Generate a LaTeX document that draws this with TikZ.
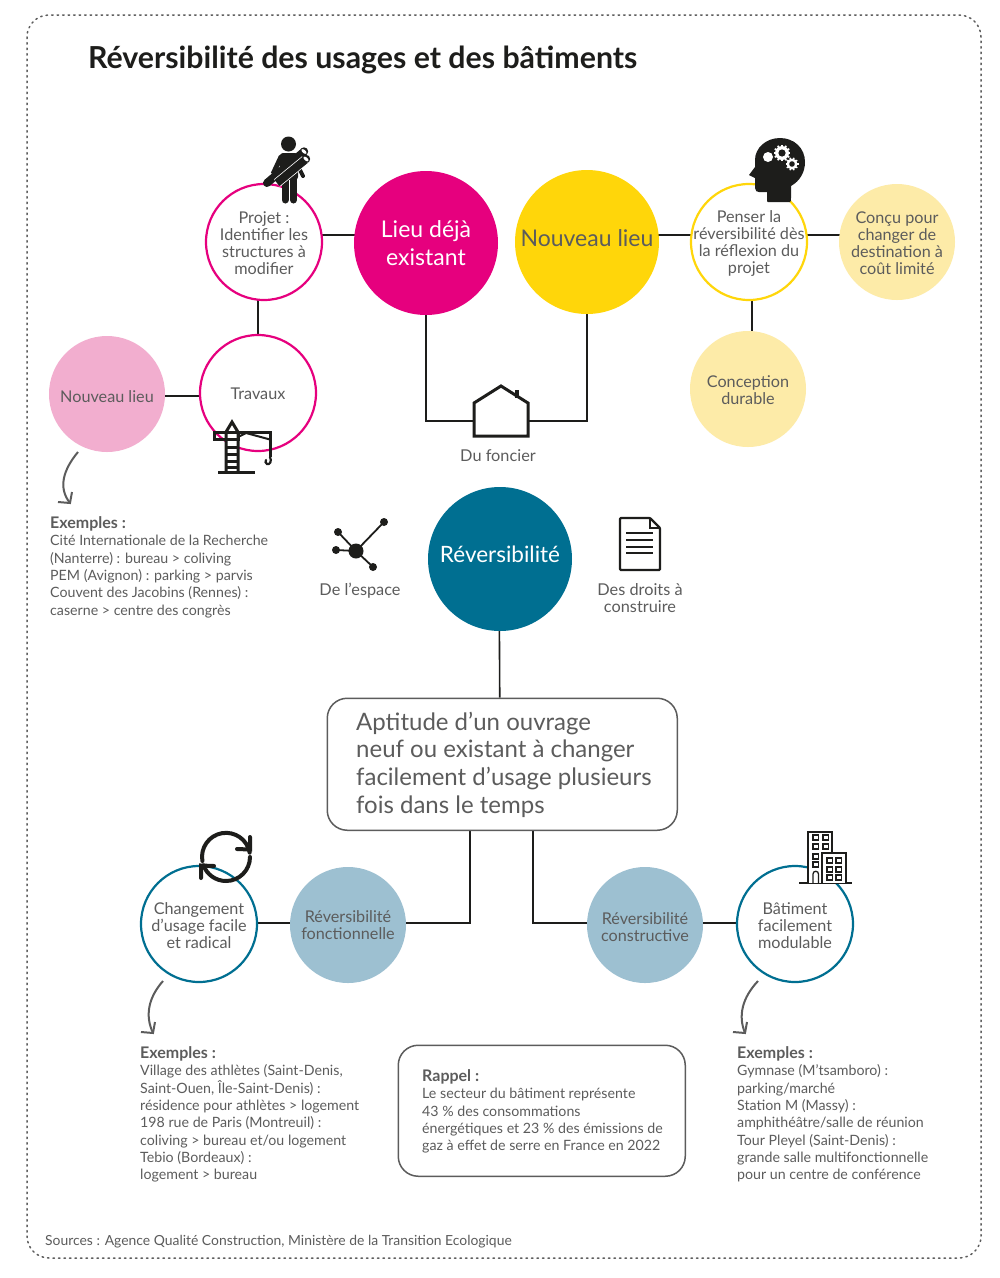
\documentclass[tikz,border=0pt]{standalone}
\usepackage{fontspec}
\setmainfont{Lato}
\usetikzlibrary{calc,arrows.meta}
\pgfdeclarelayer{bg}
\pgfsetlayers{bg,main}
\definecolor{txt}{HTML}{5C5C5C}
\definecolor{ink}{HTML}{1D1D1B}
\definecolor{pinkS}{HTML}{E6007E}
\definecolor{pinkL}{HTML}{F2AECF}
\definecolor{yelS}{HTML}{FFD60A}
\definecolor{yelL}{HTML}{FDEBA8}
\definecolor{tealS}{HTML}{006F91}
\definecolor{tealL}{HTML}{9DC0D1}
\newcommand{\fs}[2]{\fontsize{#1}{#2}\selectfont}
\tikzset{
  x=1pt,y=-1pt,
  small/.style={circle,inner sep=0pt,outer sep=0pt,minimum size=116pt},
  big/.style={circle,inner sep=0pt,outer sep=0pt,minimum size=144pt},
  ctext/.style={align=center,text=txt,inner sep=0pt,font=\fs{16.2}{17}},
  btext/.style={align=center,inner sep=0pt,font=\fs{23}{28}},
  ringP/.style={small,draw=pinkS,fill=white,line width=2.2pt},
  ringY/.style={small,draw=yelS,fill=white,line width=2.2pt},
  ringT/.style={small,draw=tealS,fill=white,line width=2.2pt},
  conn/.style={draw=ink,line width=1.6pt},
  lbl/.style={align=center,text=txt,inner sep=0pt,font=\fs{16.3}{17}},
  body/.style={anchor=north west,align=left,text=txt,inner sep=0pt,font=\fs{14.2}{17.3}},
  panel/.style={draw=txt,line width=1.5pt,rounded corners=20pt,fill=white},
  curved/.style={draw=txt,line width=2pt},
  icon/.style={draw=ink,line width=3pt,line join=miter},
}
\begin{document}
\begin{tikzpicture}
\useasboundingbox (0,0) rectangle (1000,1278);
\begin{pgfonlayer}{bg}
\fill[white] (0,0) rectangle (1000,1278);
\end{pgfonlayer}
\draw[draw=txt,line width=1.5pt,dash pattern=on 1.5pt off 4pt,line cap=round,rounded corners=22pt] (27,15) rectangle (981,1258);

\node[anchor=base west,inner sep=0pt,font=\fs{30.3}{32}\bfseries,text=ink] (title) at (88,68.5) {Réversibilité des usages et des bâtiments};

% circles
\node[ringP,label={[ctext,yshift=-1.5pt]center:{Projet :\\Identifier les\\structures à\\modifier}}] (projet) at (264,242) {};
\node[ringP,label={[ctext,yshift=-1pt]center:{Travaux}}] (travaux) at (258,393) {};
\node[small,fill=pinkL,label={[ctext,yshift=-3pt]center:{Nouveau lieu}}] (nlrose) at (107,394) {};
\node[big,fill=pinkS,label={[btext,text=white,yshift=0pt]center:{Lieu déjà\\existant}}] (lieu) at (426,243) {};
\node[big,fill=yelS,label={[btext,text=txt,yshift=4pt]center:{Nouveau lieu}}] (nouveau) at (587,242) {};
\node[ringY,label={[ctext,yshift=-1.5pt]center:{Penser la\\réversibilité dès\\la réflexion du\\projet}}] (penser) at (749,242) {};
\node[small,fill=yelL,label={[ctext,yshift=-1.5pt]center:{Conçu pour\\changer de\\destination à\\coût limité}}] (concu) at (897,242) {};
\node[small,fill=yelL,label={[ctext,yshift=-1.5pt]center:{Conception\\durable}}] (durable) at (748,389) {};
\node[big,fill=tealS,label={[btext,font=\fs{22.5}{28},text=white,yshift=5pt]center:{Réversibilité}}] (rever) at (500,559) {};
\node[small,fill=tealL,label={[ctext,yshift=-0.5pt]center:{Réversibilité\\fonctionnelle}}] (fonc) at (348,925) {};
\node[small,fill=tealL,label={[ctext,yshift=-2pt]center:{Réversibilité\\constructive}}] (cons) at (645,925) {};
\node[ringT,label={[ctext,yshift=-2pt]center:{Changement\\d’usage facile\\et radical}}] (chang) at (199,924) {};
\node[ringT,label={[ctext,yshift=-2pt]center:{Bâtiment\\facilement\\modulable}}] (batim) at (795,924) {};

% central panel
\node[panel,anchor=north west,minimum width=350pt,minimum height=132pt,inner sep=0pt] (apt) at (326.5,697.5) {};
\node[anchor=west,align=left,text=txt,inner sep=0pt,font=\fs{24}{27.7}] (apttext) at (356,764.5) {Aptitude d’un ouvrage\\neuf ou existant à changer\\facilement d’usage plusieurs\\fois dans le temps};
\node[panel,anchor=north west,minimum width=287pt,minimum height=131pt,inner sep=0pt] (rappel) at (397.5,1044.5) {};
\node[body] (rappeltext) at (422,1069.5) {{\fs{16}{17.3}\bfseries Rappel :}\\Le secteur du bâtiment représente\\43 \% des consommations\\énergétiques et 23 \% des émissions de\\gaz à effet de serre en France en 2022};

% labels
\node[lbl] (foncier) at (498,456) {Du foncier};
\node[lbl] (espace) at (360,591) {De l'espace};
\node[lbl] (droits) at (640,598) {Des droits à\\construire};
\node[body] (ex1) at (50,516.5) {{\fs{16}{17.3}\bfseries Exemples :}\\Cité Internationale de la Recherche\\(Nanterre) : bureau > coliving\\PEM (Avignon) : parking > parvis\\Couvent des Jacobins (Rennes) :\\caserne > centre des congrès};
\node[body] (ex2) at (140,1046.5) {{\fs{16}{17.3}\bfseries Exemples :}\\Village des athlètes (Saint-Denis,\\Saint-Ouen, Île-Saint-Denis) :\\résidence pour athlètes > logement\\198 rue de Paris (Montreuil) :\\coliving > bureau et/ou logement\\Tebio (Bordeaux) :\\logement > bureau};
\node[body] (ex3) at (737,1046.5) {{\fs{16}{17.3}\bfseries Exemples :}\\Gymnase (M’tsamboro) :\\parking/marché\\Station M (Massy) :\\amphithéâtre/salle de réunion\\Tour Pleyel (Saint-Denis) :\\grande salle multifonctionnelle\\pour un centre de conférence};
\node[anchor=base west,inner sep=0pt,text=txt,font=\fs{13.9}{15}] (sources) at (45,1245) {Sources : Agence Qualité Construction, Ministère de la Transition Ecologique};

% named points
\coordinate (hsL) at (474,421);
\coordinate (hsR) at (528,421);
\coordinate (a1s) at (78,452); \coordinate (a1e) at (70,503);
\coordinate (a2s) at (163,981); \coordinate (a2e) at (153,1033);
\coordinate (a3s) at (758,981); \coordinate (a3e) at (745,1033);

% connectors
\begin{pgfonlayer}{bg}
\path[conn] ([yshift=7pt]projet.center) -- ([yshift=8pt]lieu.center);
\path[conn] ([xshift=-6pt]projet.center) -- (travaux.center);
\path[conn] ([yshift=-2pt]nlrose.center) -- ([yshift=-3pt]travaux.center);
\path[conn] (lieu.south) |- (hsL);
\path[conn] (nouveau.south) |- (hsR);
\path[conn] ([yshift=7pt]nouveau.center) -- ([yshift=7pt]penser.center);
\path[conn] ([yshift=7pt]penser.center) -- ([yshift=7pt]concu.center);
\path[conn] ([xshift=3pt]penser.center) -- ([xshift=4pt]durable.center);
\path[conn] ([xshift=-1pt]rever.center) -- ([xshift=-2.5pt]apt.north);
\path[conn] ([xshift=-32pt]apt.south) |- ([yshift=2pt]fonc.center);
\path[conn] ([xshift=31pt]apt.south) |- ([yshift=2pt]cons.center);
\path[conn] ([yshift=1pt]chang.center) -- ([yshift=2pt]fonc.center);
\path[conn] ([yshift=2pt]cons.center) -- ([yshift=1pt]batim.center);
\end{pgfonlayer}

% curved arrows
\path[curved] (a1s) .. controls (63,470) and (58,488) .. (a1e);
\path[curved] (58,502) -- (a1e) -- (72,492);
\path[curved] (a2s) .. controls (148,998) and (145,1016) .. (a2e);
\path[curved] (141,1032) -- (a2e) -- (155,1022);
\path[curved] (a3s) .. controls (742,998) and (738,1016) .. (a3e);
\path[curved] (733,1032) -- (a3e) -- (747,1022);

% house
\draw[draw=ink,line width=3pt,fill=white,line join=miter] (474,403) -- (501,386) -- (528,403) -- (528,436) -- (474,436) -- cycle;
\fill[ink] (515,390) rectangle (519,398);

% worker
\fill[ink] (288.5,144) circle (7.5);
\fill[ink,rounded corners=3pt] (280,153) rectangle (298,180);
\draw[ink,line width=7pt,line cap=round] (285,176) -- (285,200);
\draw[ink,line width=7pt,line cap=round] (293.5,176) -- (293.5,200);
\draw[white,line width=1pt] (289,180) -- (289,204);
\draw[ink,line width=5pt,line cap=round] (281,157) -- (274,172) -- (282,178);
\draw[ink,line width=4pt,line cap=round] (298,166) -- (303,176);
\draw[ink,line width=8pt,line cap=round] (267,183) -- (303,152.5);
\draw[white,line width=9.5pt] (277,183) -- (305,160);
\draw[ink,line width=8pt] (277,183) -- (305,160);
\fill[ink] (304,151.5) circle (4.2) (306,159) circle (4.2);
\fill[white,rotate around={50:(304,151.5)}] (304,151.5) ellipse (1.6 and 3.2);
\fill[white,rotate around={50:(306,159)}] (306,159) ellipse (1.6 and 3.2);

% head with gears
\fill[ink] (768,202) -- (790,202) .. controls (791,202) and (791,200) .. (791,198) -- (791,186)
  .. controls (800,181) and (805,172) .. (805,162) .. controls (805,148) and (794,138) .. (780,138)
  .. controls (766,138) and (755,148) .. (755,160) -- (755,167) -- (749,175) -- (755,178) -- (755,188)
  .. controls (755,191) and (757,192) .. (759,192) -- (767,192) -- (767,199) .. controls (767,201) and (767,202) .. (768,202) -- cycle;
\fill[white] (768,157) circle (5);
\fill[white] (782,153) circle (7);
\fill[white] (792,164) circle (5.5);
\foreach \a in {0,30,...,330}{
  \draw[white,line width=1.6pt] (782,153) ++(\a:6) -- ++(\a:2.4);
}
\foreach \a in {0,36,...,324}{
  \draw[white,line width=1.4pt] (792,164) ++(\a:4.5) -- ++(\a:2);
}
\fill[ink] (782,153) circle (3.6);
\fill[ink] (792,164) circle (2.8);

% crane
\begin{scope}[icon]
\fill[white] (226,432) rectangle (238,472);
\draw (218,472) -- (255,472);
\draw (226,472) -- (226,432) -- (232,422) -- (238,432) -- (238,472);
\draw (226,447) -- (238,447) (226,454) -- (238,454) (226,461) -- (238,461) (226,467) -- (238,467);
\draw (214.5,432) rectangle (238,439);
\draw (238,432) -- (270,432) -- (270,457);
\draw[line width=2pt] (238,437) -- (246,433) -- (270,439.5);
\draw[line width=2.2pt,line cap=round] (270,457) .. controls (272,461) and (270,465) .. (267,464) .. controls (265.5,463.5) and (265,461) .. (266,460);
\end{scope}

% network
\draw[ink,line width=1.8pt] (338,532) -- (356,551) -- (384,522) (336,550) -- (356,551) -- (373,567);
\fill[ink] (356,551) circle (7.5) (384,522) circle (4) (338,532) circle (4) (336,550) circle (4) (373,567) circle (4);

% document
\draw[ink,line width=2.4pt,rounded corners=1pt,line join=round] (620,518) -- (650,518) -- (660,528) -- (660,570) -- (620,570) -- cycle;
\draw[ink,line width=1.6pt] (650,518) -- (650,528) -- (660,528);
\draw[ink,line width=1.8pt] (626,533) -- (653,533) (626,540) -- (653,540) (626,547) -- (653,547) (626,553) -- (653,553);

% refresh
\begin{scope}[draw=ink,line width=4pt,line cap=round]
\draw (202.4,861) arc[start angle=170,end angle=350,radius=24];
\draw (237,849) -- (250,849.5) -- (250,837);
\draw (250,857) arc[start angle=0,end angle=160,radius=24];
\draw (214,866) -- (201,865.5) -- (201,878);
\end{scope}

% building
\begin{scope}[draw=ink,line width=1.7pt]
\draw (799,883) -- (852,883);
\draw[fill=white] (808,883) -- (808,832) -- (832,832) -- (832,883);
\draw[fill=white] (822,883) -- (822,853) -- (846,853) -- (846,883);
\foreach \xx/\yy in {813/835,823/835,813/844,823/844,813/854,813/862,827/858,836/858,827/867,836/867,827/875,836/875}{
  \draw[line width=1.3pt] (\xx,\yy) rectangle ++(5.5,5);
}
\draw[line width=1.3pt] (813,883) -- (813,874) arc[start angle=180,end angle=360,radius=2.75] -- (818.5,883);
\end{scope}
\end{tikzpicture}
\end{document}
